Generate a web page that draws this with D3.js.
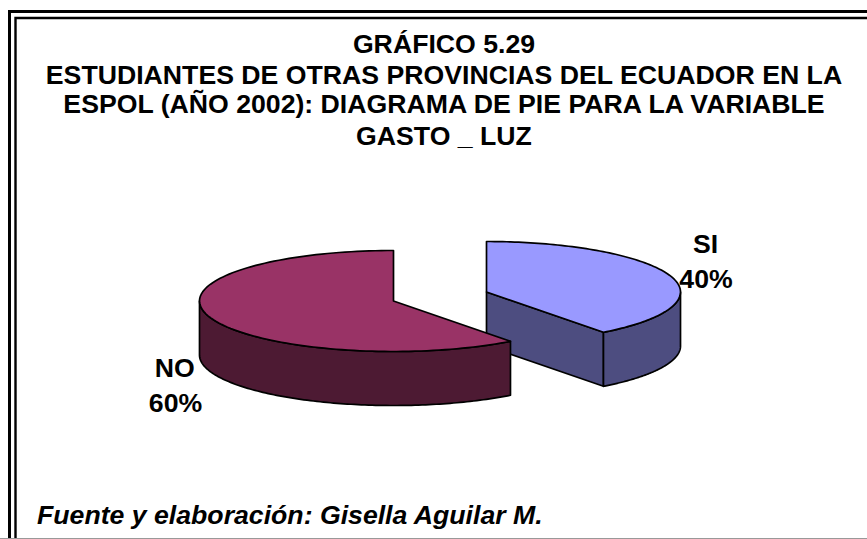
<!DOCTYPE html>
<html><head><meta charset="utf-8">
<script src="https://cdn.jsdelivr.net/npm/d3@7"></script>
<style>html,body{margin:0;padding:0;background:#fff}svg{display:block}text{font-family:"Liberation Sans",Arial,sans-serif;fill:#000}</style>
</head><body><div id="c"></div>
<script>
const categories = ["SI", "NO"];
const values = [39.7, 60.3];
const percentLabels = ["40%", "60%"];
const titleLines = ["GRÁFICO 5.29", "ESTUDIANTES DE OTRAS PROVINCIAS DEL ECUADOR EN LA", "ESPOL (AÑO 2002): DIAGRAMA DE PIE PARA LA VARIABLE", "GASTO _ LUZ"];
const sourceText = "Fuente y elaboración: Gisella Aguilar M.";
const topColors = ["#9999FF", "#993366"];
const wallColors = ["#4D4D80", "#4D1A33"];

const W = 867, H = 539;
const svg = d3.select("#c").append("svg").attr("width", W).attr("height", H);

// double frame: open on the right
const frame = [[9.5,11.5,3],[15.5,18,2.4]];
frame.forEach(([x,y,w]) => {
  svg.append("path").attr("d", `M${x},${H}V${y}H${W}`).attr("fill","none").attr("stroke","#000").attr("stroke-width",w);
});
svg.append("line").attr("x1",0).attr("x2",W).attr("y1",538.5).attr("y2",538.5).attr("stroke","#999").attr("stroke-width",1);

// title
const titleY = [53, 84, 113, 145];
const fs = 26.67;
svg.selectAll("text.t").data(titleLines).join("text").attr("class","t")
  .attr("x",444).attr("y",(d,i)=>titleY[i]).attr("text-anchor","middle")
  .attr("font-size",fs).attr("font-weight","bold").text(d=>d);

svg.append("text").attr("x",37).attr("y",523.5).attr("font-size",fs)
  .attr("font-weight","bold").attr("font-style","italic").text(sourceText);

// pie
const rx = 194, ry = 50.5, depth = 54;
const centers = [[486.5,292],[393.5,301]];
const pie = d3.pie().sort(null).startAngle(0).endAngle(2*Math.PI);
const arcs = pie(values);
const unitX = d3.scaleLinear().domain([-1,1]).range([-rx,rx]);
const unitY = d3.scaleLinear().domain([-1,1]).range([-ry,ry]);
const pt = a => [unitX(Math.sin(a)), unitY(-Math.cos(a))];
const sample = (a0,a1) => d3.range(0,121).map(i => pt(a0+(a1-a0)*i/120));
const line = d3.line();
[0,1].forEach(i => {
  const g = svg.append("g").attr("transform",`translate(${centers[i]})`)
    .attr("stroke","#000").attr("stroke-width",1.7).attr("stroke-linejoin","round");
  const a0 = arcs[i].startAngle, a1 = arcs[i].endAngle;
  const f0 = Math.max(a0, Math.PI/2), f1 = Math.min(a1, 3*Math.PI/2);
  const rim = sample(f0,f1);
  const wall = rim.concat(rim.slice().reverse().map(([x,y])=>[x,y+depth]));
  if (i === 0) {
    const tip = pt(a1);
    g.append("path").attr("fill",wallColors[i]).attr("d",line([[0,0],tip,[tip[0],tip[1]+depth],[0,depth]])+"Z");
  }
  g.append("path").attr("fill",wallColors[i]).attr("d",line(wall)+"Z");
  g.append("path").attr("fill",topColors[i]).attr("d",line([[0,0]].concat(sample(a0,a1)))+"Z");
});

// labels
const labelPos = [[705.5,252.7,706,287.7],[174.7,377,175.5,412]];
categories.forEach((c,i) => {
  const p = labelPos[i];
  svg.append("text").attr("x",p[0]).attr("y",p[1]).attr("text-anchor","middle").attr("font-size",fs).attr("font-weight","bold").text(c);
  svg.append("text").attr("x",p[2]).attr("y",p[3]).attr("text-anchor","middle").attr("font-size",fs).attr("font-weight","bold").text(percentLabels[i]);
});
</script></body></html>
